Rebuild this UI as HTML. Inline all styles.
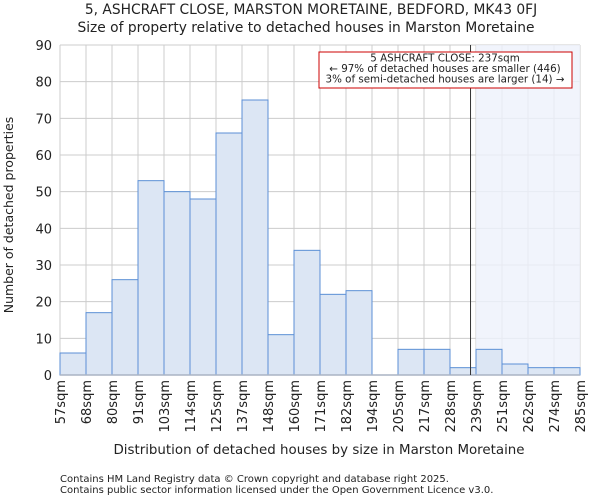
<!DOCTYPE html>
<html><head><meta charset="utf-8"><style>
body{margin:0;background:#fff;font-family:"DejaVu Sans","Liberation Sans",sans-serif;}
svg text{font-family:"DejaVu Sans","Liberation Sans",sans-serif;fill:#222;}
</style></head><body>
<svg id="chart" width="600" height="500" xmlns="http://www.w3.org/2000/svg">
<text x="311" y="14" font-size="13.8" text-anchor="middle">5, ASHCRAFT CLOSE, MARSTON MORETAINE, BEDFORD, MK43 0FJ</text>
<text x="306" y="32" font-size="13.8" text-anchor="middle">Size of property relative to detached houses in Marston Moretaine</text>
<g id="grid"></g>
<rect id="hl" fill="#eef1fb" opacity="0.8"></rect>
<g id="bars"></g>
<g id="axes"></g>
<text transform="translate(13,215) rotate(-90)" font-size="12.5" text-anchor="middle">Number of detached properties</text>
<text x="319" y="454" font-size="13.4" text-anchor="middle">Distribution of detached houses by size in Marston Moretaine</text>
<text x="60" y="482" font-size="10" fill="#444">Contains HM Land Registry data © Crown copyright and database right 2025.</text>
<text x="60" y="493" font-size="10" fill="#444">Contains public sector information licensed under the Open Government Licence v3.0.</text>
</svg>
<script>
const binEdges=[57,68,80,91,103,114,125,137,148,160,171,182,194,205,217,228,239,251,262,274,285];
const counts=[6,17,26,53,50,48,66,75,11,34,22,23,0,7,7,2,7,3,2,2];
const yTicks=[0,10,20,30,40,50,60,70,80,90];
const markerValue=237;
const annotLines=["5 ASHCRAFT CLOSE: 237sqm","← 97% of detached houses are smaller (446)","3% of semi-detached houses are larger (14) →"];
const NS="http://www.w3.org/2000/svg";
const L=60,R=580,T=45,B=375,yMax=90;
const nb=counts.length;
function xIdx(i){return L+(R-L)*i/nb;}
function xVal(v){const w=(binEdges[nb]-binEdges[0])/nb;return L+(v-binEdges[0])/w*(R-L)/nb;}
function y(v){return B-(B-T)*v/yMax;}
function mk(tag,attrs,parent){const e=document.createElementNS(NS,tag);for(const k in attrs)e.setAttribute(k,attrs[k]);parent.appendChild(e);return e;}
const grid=document.getElementById('grid'),bars=document.getElementById('bars'),axes=document.getElementById('axes');
yTicks.forEach(t=>{const l=mk('line',{x1:L,x2:R,y1:y(t),y2:y(t),stroke:'#cccccc'},grid);


const tx=mk('text',{x:L-8,y:y(t)+5,'font-size':13,'text-anchor':'end'},axes);tx.textContent=t;

});
binEdges.forEach((e,i)=>{const l=mk('line',{x1:xIdx(i),x2:xIdx(i),y1:T,y2:B,stroke:'#cccccc'},grid);


const tx=mk('text',{transform:`translate(${xIdx(i)+5},${B+5}) rotate(-90)`,'font-size':13,'text-anchor':'end'},axes);tx.textContent=e+'sqm';

});
const hl=document.getElementById('hl');
const hs=xIdx(binEdges.findIndex(e=>e>=markerValue));
hl.setAttribute('x',hs);hl.setAttribute('y',T);hl.setAttribute('width',R-hs);hl.setAttribute('height',B-T);
counts.forEach((c,i)=>{if(c<=0)return;const r=mk('rect',{x:xIdx(i),y:y(c),width:xIdx(i+1)-xIdx(i),height:B-y(c),fill:'#dce6f4',stroke:'#5b8fd6','stroke-width':1},bars);

});
const ax=mk('line',{x1:L,x2:R,y1:B,y2:B,stroke:'#aab4c4','stroke-width':1.5},axes);


const mx=xVal(markerValue);
const ml=mk('line',{x1:mx,x2:mx,y1:T,y2:B,stroke:'#333','stroke-width':1},axes);


const box=mk('rect',{x:319,y:52,width:253,height:36,fill:'#fff',stroke:'#cc0000','stroke-width':1},axes);


annotLines.forEach((s,i)=>{const t=mk('text',{x:445,y:61.5+i*10.5,'font-size':10.3,'text-anchor':'middle'},axes);t.textContent=s;

});
</script>
</body></html>
